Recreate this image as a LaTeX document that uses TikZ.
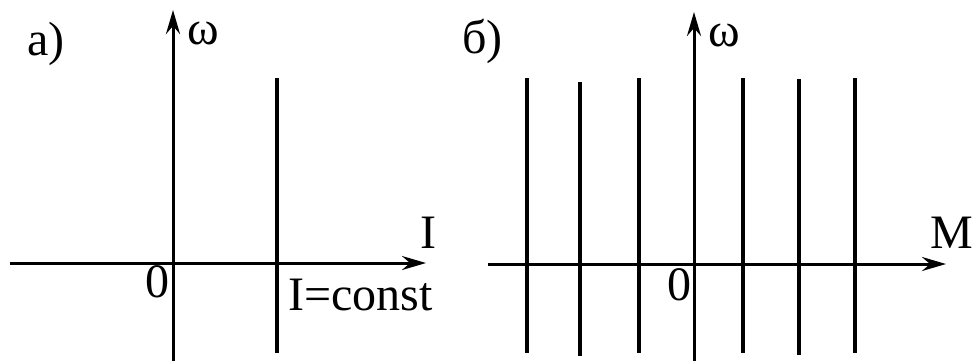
\documentclass[tikz,border=0pt]{standalone}
\usepackage{fontspec}
\setmainfont{LiberationSerif-Regular.ttf}
\usetikzlibrary{arrows.meta}

\begin{document}
\begin{tikzpicture}[
    x=0.5pt, y=-0.5pt,
    axis/.style={line width=1.5pt, -{Stealth[length=12pt, width=7pt, inset=4pt]}},
    level/.style={line width=2pt},
    lbl/.style={anchor=base west, inner sep=0pt, font=\fontsize{24}{28}\selectfont}
]
\useasboundingbox (0,0) rectangle (973,361);

% a)
\coordinate (a-left) at (10,263);
\coordinate (a-right) at (426,263);
\coordinate (a-bottom) at (173,361);
\coordinate (a-top) at (173,10);
\draw[axis] (a-left) -- (a-right);
\draw[axis] (a-bottom) -- (a-top);
\coordinate (i-top) at (277,78);
\coordinate (i-bottom) at (277,353);
\draw[level] (i-top) -- (i-bottom);

\node[lbl] (a-tag) at (27,55) {a)};
\node[lbl] (a-omega) at (187,44) {ω};
\node[lbl] (a-xlab) at (420,248) {I};
\node[lbl] (a-zero) at (145,297) {0};
\node[lbl] (a-const) at (288,310) {I=const};

% б)
\coordinate (b-left) at (488,264);
\coordinate (b-right) at (946,264);
\coordinate (b-bottom) at (694,361);
\coordinate (b-top) at (694,12);
\draw[axis] (b-left) -- (b-right);
\draw[axis] (b-bottom) -- (b-top);
\foreach \xm/\yt/\yb [count=\k] in {527/78/353, 580/82/356, 639/78/353, 743/78/353, 799/79/355, 855/78/353} {
    \coordinate (m\k-top) at (\xm,\yt);
    \coordinate (m\k-bottom) at (\xm,\yb);
    \draw[level] (m\k-top) -- (m\k-bottom);
}

\node[lbl] (b-tag) at (462,53) {б)};
\node[lbl] (b-omega) at (708,46) {ω};
\node[lbl] (b-xlab) at (930,248) {M};
\node[lbl] (b-zero) at (667,300) {0};

\end{tikzpicture}
\end{document}
